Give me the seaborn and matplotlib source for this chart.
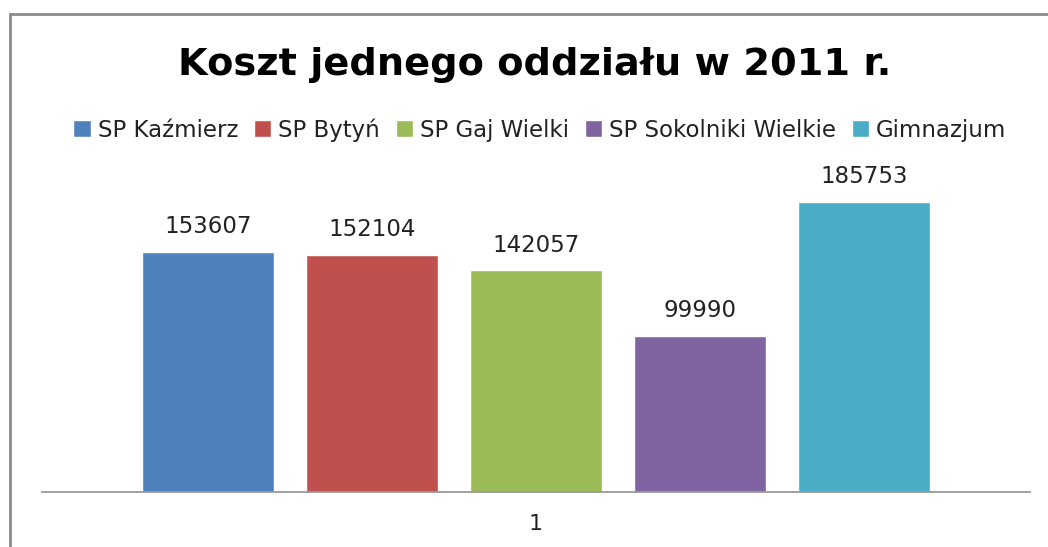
"""
Koszt jednego oddziału w 2011 r. — wykres słupkowy (seaborn)
"""

import matplotlib
matplotlib.use('Agg')
import matplotlib.pyplot as plt
from matplotlib.lines import Line2D
import seaborn as sns
import pandas as pd

# ---- dane ----
SZKOLY = ['SP Kaźmierz', 'SP Bytyń', 'SP Gaj Wielki', 'SP Sokolniki Wielkie', 'Gimnazjum']
KOSZT = [153607, 152104, 142057, 99990, 185753]
KATEGORIA = ['1', '1', '1', '1', '1']
KOLORY = ['#4F81BD', '#C0504D', '#9BBB59', '#8064A2', '#4BACC6']

sns.set_style('white')
plt.rcParams['font.family'] = ['DejaVu Sans']

df = pd.DataFrame({'grupa': KATEGORIA, 'szkola': SZKOLY, 'koszt': KOSZT})

fig = plt.figure(figsize=(10.48, 5.47), dpi=100)
ax = fig.add_axes([42 / 1048, 1 - 492 / 547, 988 / 1048, 312 / 547])

sns.barplot(data=df, x='grupa', y='koszt', hue='szkola', hue_order=SZKOLY,
            palette=KOLORY, width=0.83, gap=0.2, errorbar=None, ax=ax,
            saturation=1)

for cont in ax.containers:
    ax.bar_label(cont, fmt='%d', padding=10, fontsize=16.5, color='#222222')

ax.set_ylim(0, 200000)
ax.set_xlim(-0.5, 0.5)
ax.set_xlabel('')
ax.set_ylabel('')
ax.set_yticks([])
ax.tick_params(axis='x', length=0, pad=16, labelsize=16, labelcolor='#222222')
for side in ['left', 'top', 'right']:
    ax.spines[side].set_visible(False)
ax.spines['bottom'].set_color('#9a9a9a')
ax.spines['bottom'].set_linewidth(1.3)

# legenda nad wykresem
handles, labels = ax.get_legend_handles_labels()
ax.get_legend().remove()
fig.legend(handles, labels, loc='center', bbox_to_anchor=(540 / 1048, 1 - 130 / 547),
           ncol=5, frameon=False, fontsize=16.5, handlelength=0.75, handleheight=0.75,
           handletextpad=0.3, columnspacing=0.7, labelcolor='#222222')

fig.text(535 / 1048, 1 - 75 / 547, 'Koszt jednego oddziału w 2011 r.',
         ha='center', va='baseline', fontsize=27.5, fontweight='bold', color='black')

# ramka obszaru wykresu (lewa i górna krawędź)
fig.add_artist(Line2D([10 / 1048, 10 / 1048], [0, 1 - 14 / 547],
                      color='#8c8c8c', linewidth=2))
fig.add_artist(Line2D([10 / 1048, 1], [1 - 14 / 547, 1 - 14 / 547],
                      color='#8c8c8c', linewidth=2))

fig.savefig('out.png', dpi=100, facecolor='white')
plt.close(fig)
